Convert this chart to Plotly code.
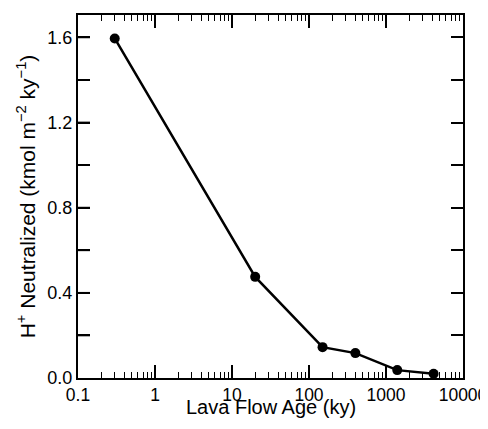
import plotly.graph_objects as go

# Data
ages_ky = [0.3, 20, 150, 400, 1400, 4150]
h_neutralized = [1.595, 0.475, 0.145, 0.117, 0.037, 0.02]

x_tick_vals = [0.1, 1, 10, 100, 1000, 10000]
x_tick_text = ["0.1", "1", "10", "100", "1000", "10000"]
y_tick_vals = [0.0, 0.4, 0.8, 1.2, 1.6]
y_tick_text = ["0.0", "0.4", "0.8", "1.2", "1.6"]
y_all_tick_vals = [0.2, 0.4, 0.6, 0.8, 1.0, 1.2, 1.4, 1.6]
y_range = [0, 1.705]
x_title = "Lava Flow Age (ky)"
y_title = "H<sup>+</sup> Neutralized (kmol m<sup>\u22122</sup> ky<sup>\u22121</sup>)"

font_family = "Liberation Sans, Arial, Helvetica, sans-serif"

fig = go.Figure()
fig.add_trace(go.Scatter(
    x=ages_ky, y=h_neutralized, mode="lines+markers",
    line=dict(color="black", width=2.5),
    marker=dict(color="black", size=10),
    showlegend=False,
))

# page body has an 8px margin; keep the page free of scrollbars
fig.update_layout(
    width=480, height=413,
    margin=dict(l=70, r=25, t=7, b=43),
    paper_bgcolor="white", plot_bgcolor="white",
    font=dict(family=font_family, color="black", size=18),
)

fig.update_xaxes(
    type="log", range=[-1, 4],
    tickmode="array", tickvals=x_tick_vals, ticktext=x_tick_text,
    ticklabeloverflow="allow",
    ticks="inside", ticklen=13, tickwidth=1.6, tickcolor="black",
    minor=dict(dtick="D1", ticks="inside",
               ticklen=6, tickwidth=1.3, tickcolor="black", showgrid=False),
    showline=True, linecolor="black", linewidth=2, mirror="allticks",
    showgrid=False, zeroline=False, automargin=False,
    tickfont=dict(size=17.5),
)

fig.update_yaxes(
    range=y_range,
    tickmode="array", tickvals=y_tick_vals, ticktext=y_tick_text,
    ticklabeloverflow="allow",
    ticks="inside", ticklen=12, tickwidth=1.6, tickcolor="black",
    minor=dict(dtick=0.2, tick0=0, ticks="inside",
               ticklen=12, tickwidth=1.6, tickcolor="black", showgrid=False),
    showline=True, linecolor="black", linewidth=2, mirror="allticks",
    showgrid=False, zeroline=False, automargin=False,
    tickfont=dict(size=18),
    title=dict(text=y_title, font=dict(size=21), standoff=6),
)

# x-axis title as an annotation so it stays inside the figure
fig.add_annotation(
    text=x_title, xref="paper", yref="paper", x=0.5, y=-0.115,
    xanchor="center", yanchor="bottom", showarrow=False,
    font=dict(size=20, color="black", family=font_family),
)

# inside ticks along the left frame edge
for v in y_all_tick_vals:
    fig.add_shape(
        type="line", layer="above",
        xref="x domain", xsizemode="pixel", xanchor=0, x0=0, x1=12,
        yref="y", y0=v, y1=v,
        line=dict(color="black", width=1.8),
    )

fig.write_html("out.html")
